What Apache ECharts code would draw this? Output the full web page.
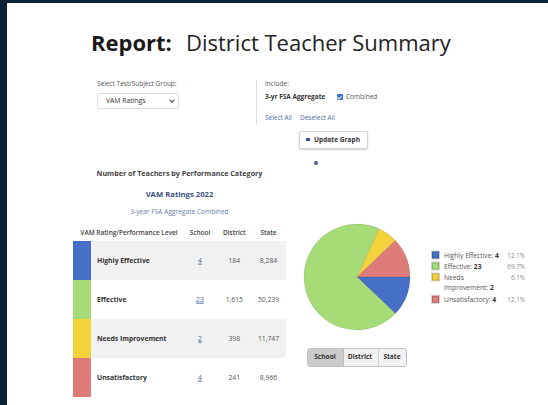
<!DOCTYPE html>
<html><head><meta charset="utf-8">
<script src="https://cdn.jsdelivr.net/npm/echarts@6/dist/echarts.min.js"></script>
<style>
html,body{margin:0;padding:0;width:548px;height:405px;overflow:hidden;background:#fff;font-family:'Open Sans',Lato,sans-serif;}
.abs{position:absolute;white-space:nowrap;line-height:1;}
.vc{transform:translateY(-50%);}
.cc{transform:translate(-50%,-50%);}
#chart{position:absolute;left:0;top:0;width:548px;height:405px;z-index:5;}
</style></head>
<body>
<div class="abs" style="left:0;top:0;width:7px;height:405px;background:#0c2236"></div>
<div class="abs" style="left:0;top:0;width:548px;height:3px;background:#0c2236"></div>

<div class="abs vc" style="left:91px;top:42px;font-size:22px;font-weight:bold;color:#1a1a1a">Report:</div>
<div class="abs vc" style="left:186px;top:42px;font-size:22px;color:#222">District Teacher Summary</div>

<div class="abs vc" style="left:97px;top:84px;font-size:6.5px;color:#555">Select Test/Subject Group:</div>
<div class="abs" style="left:97px;top:93px;width:80px;height:14px;border:1px solid #ddd;border-radius:2px;background:#fff"></div>
<div class="abs vc" style="left:106px;top:100.5px;font-size:6.8px;color:#333">VAM Ratings</div>
<div class="abs" style="left:170px;top:97.5px;width:3px;height:3px;border-right:1.2px solid #444;border-bottom:1.2px solid #444;transform:rotate(45deg)"></div>

<div class="abs" style="left:256px;top:80px;width:1px;height:45px;background:#ddd"></div>
<div class="abs vc" style="left:265px;top:84px;font-size:6.5px;color:#555">Include:</div>
<div class="abs vc" style="left:265px;top:96.5px;font-size:6.5px;font-weight:bold;color:#333">3-yr FSA Aggregate</div>
<div class="abs" style="left:336.5px;top:94px;width:6px;height:6px;background:#3b6fd2;border-radius:1px"></div>
<div class="abs" style="left:338.3px;top:94.6px;width:1.6px;height:3px;border-right:1px solid #fff;border-bottom:1px solid #fff;transform:rotate(45deg)"></div>
<div class="abs vc" style="left:346px;top:96.5px;font-size:6.5px;color:#555">Combined</div>
<div class="abs vc" style="left:265px;top:118.3px;font-size:6.5px;color:#4a6aa8">Select All</div>
<div class="abs vc" style="left:300px;top:118.3px;font-size:6.5px;color:#4a6aa8">Deselect All</div>

<div class="abs" style="left:299px;top:131px;width:67px;height:16px;border:1px solid #d4d4d4;border-radius:2px;background:#fff;box-shadow:0 1px 2px rgba(0,0,0,0.18)"></div>
<div class="abs" style="left:306px;top:137.5px;width:4px;height:3.5px;background:#3e4d8a;border-radius:0.5px"></div>
<div class="abs vc" style="left:314px;top:139.5px;font-size:6.6px;font-weight:bold;color:#333">Update Graph</div>
<div class="abs" style="left:314px;top:161px;width:4px;height:4px;border-radius:50%;background:#4d5a9e"></div>

<div id="table"></div>

<div class="abs" style="left:307px;top:348px;width:98px;height:17px;border:1px solid #c4c4c4;border-radius:3px;background:#f2f2f2;overflow:hidden">
  <div class="abs" style="left:0;top:0;width:35px;height:17px;background:#cbcbcb;border-right:1px solid #bdbdbd"></div>
  <div class="abs" style="left:70px;top:0;width:1px;height:17px;background:#cfcfcf"></div>
</div>
<div class="abs cc" style="left:325px;top:357px;font-size:6.6px;font-weight:bold;color:#333">School</div>
<div class="abs cc" style="left:360px;top:357px;font-size:6.6px;font-weight:bold;color:#333">District</div>
<div class="abs cc" style="left:392px;top:357px;font-size:6.6px;font-weight:bold;color:#333">State</div>

<div id="chart"></div>
<script>
// ---- data ----
const categories = ['Highly Effective', 'Effective', 'Needs Improvement', 'Unsatisfactory'];
const schoolValues = [4, 23, 2, 4];
const districtValues = [184, 1615, 398, 241];
const stateValues = [8284, 50239, 11747, 8966];
const tableHeaders = ['VAM Rating/Performance Level', 'School', 'District', 'State'];
const chartTitle = 'Number of Teachers by Performance Category';
const subTitle = 'VAM Ratings 2022';
const subSubTitle = '3-year FSA Aggregate Combined';
const colors = ['#4670c6', '#a6dc78', '#f3d23a', '#dd7b79'];

// ---- table (HTML) ----
const tbl = document.getElementById('table');
function addText(txt, x, y, css, center) {
  const d = document.createElement('div');
  d.className = 'abs ' + (center ? 'cc' : 'vc');
  d.style.left = x + 'px'; d.style.top = y + 'px';
  d.style.cssText += css;
  d.textContent = txt;
  tbl.appendChild(d);
  return d;
}
function addBox(x, y, w, h, bg) {
  const d = document.createElement('div');
  d.className = 'abs';
  d.style.cssText += 'left:' + x + 'px;top:' + y + 'px;width:' + w + 'px;height:' + h + 'px;background:' + bg;
  tbl.appendChild(d);
}
addText(chartTitle, 179.5, 174, 'font-size:7.2px;font-weight:bold;color:#444', true);
addText(subTitle, 179.5, 195, 'font-size:7.7px;font-weight:bold;color:#3b4f86', true);
addText(subSubTitle, 179.5, 212, 'font-size:6.6px;color:#6a7aa6', true);
const colCenters = [129, 200, 234.3, 268.5];
tableHeaders.forEach((h, i) => addText(h, colCenters[i], 233, 'font-size:6.5px;font-weight:600;color:#444', true));
const rowTop = 241, rowH = 39;
categories.forEach((c, i) => {
  const y = rowTop + i * rowH;
  if (i % 2 === 0) addBox(91, y, 195, rowH, '#f1f1f1');
  addBox(73, y, 18, rowH, colors[i]);
  const cy = y + rowH / 2;
  addText(c, 97, cy, 'font-size:6.8px;font-weight:bold;color:#333', false);
  addText(String(schoolValues[i]), colCenters[1], cy, 'font-size:6.8px;color:#4a6aa8;text-decoration:underline', true);
  addText(districtValues[i].toLocaleString('en-US'), colCenters[2], cy, 'font-size:6.8px;color:#555', true);
  addText(stateValues[i].toLocaleString('en-US'), colCenters[3], cy, 'font-size:6.8px;color:#555', true);
});

// ---- pie (ECharts) ----
const total = schoolValues.reduce((a, b) => a + b, 0);
const pct = i => (schoolValues[i] / total * 100).toFixed(1) + '%';
function fmt(name) {
  const i = categories.indexOf(name);
  if (name === 'Needs Improvement') {
    return '{n|Needs}{p|' + pct(i) + '}\n{n|Improvement: }{b|' + schoolValues[i] + '}';
  }
  return '{n|' + name + ': }{b|' + schoolValues[i] + '}{p|' + pct(i) + '}';
}
const legendText = {
  width: 81, lineHeight: 10, fontFamily: 'Open Sans', fontSize: 6.7, color: '#555',
  rich: {
    n: { fontFamily: 'Open Sans', fontSize: 6.7, color: '#555', lineHeight: 10 },
    b: { fontFamily: 'Open Sans', fontSize: 6.7, color: '#333', fontWeight: 'bold', lineHeight: 10 },
    p: { fontFamily: 'Open Sans', fontSize: 6.3, color: '#8a8a8a', align: 'right', lineHeight: 10 }
  }
};
const legendBase = {
  orient: 'vertical', left: 431, padding: 0, itemGap: 1, itemWidth: 7, itemHeight: 7,
  icon: 'rect', selectedMode: false, formatter: fmt, textStyle: legendText
};
const chart = echarts.init(document.getElementById('chart'), null, { renderer: 'svg' });
chart.setOption({
  animation: false,
  color: colors,
  legend: [
    Object.assign({}, legendBase, {
      top: 250,
      data: [categories[0], categories[1], { name: categories[2], textStyle: { height: 10 } }]
    }),
    Object.assign({}, legendBase, { top: 294.3, data: [categories[3]] })
  ],
  series: [{
    type: 'pie',
    center: [357, 277],
    radius: 53,
    startAngle: 0,
    clockwise: true,
    label: { show: false },
    labelLine: { show: false },
    emphasis: { disabled: true },
    itemStyle: { borderColor: 'rgba(0,0,0,0.18)', borderWidth: 0.5 },
    data: categories.map((c, i) => ({ name: c, value: schoolValues[i] }))
  }]
});
</script>
</body></html>
